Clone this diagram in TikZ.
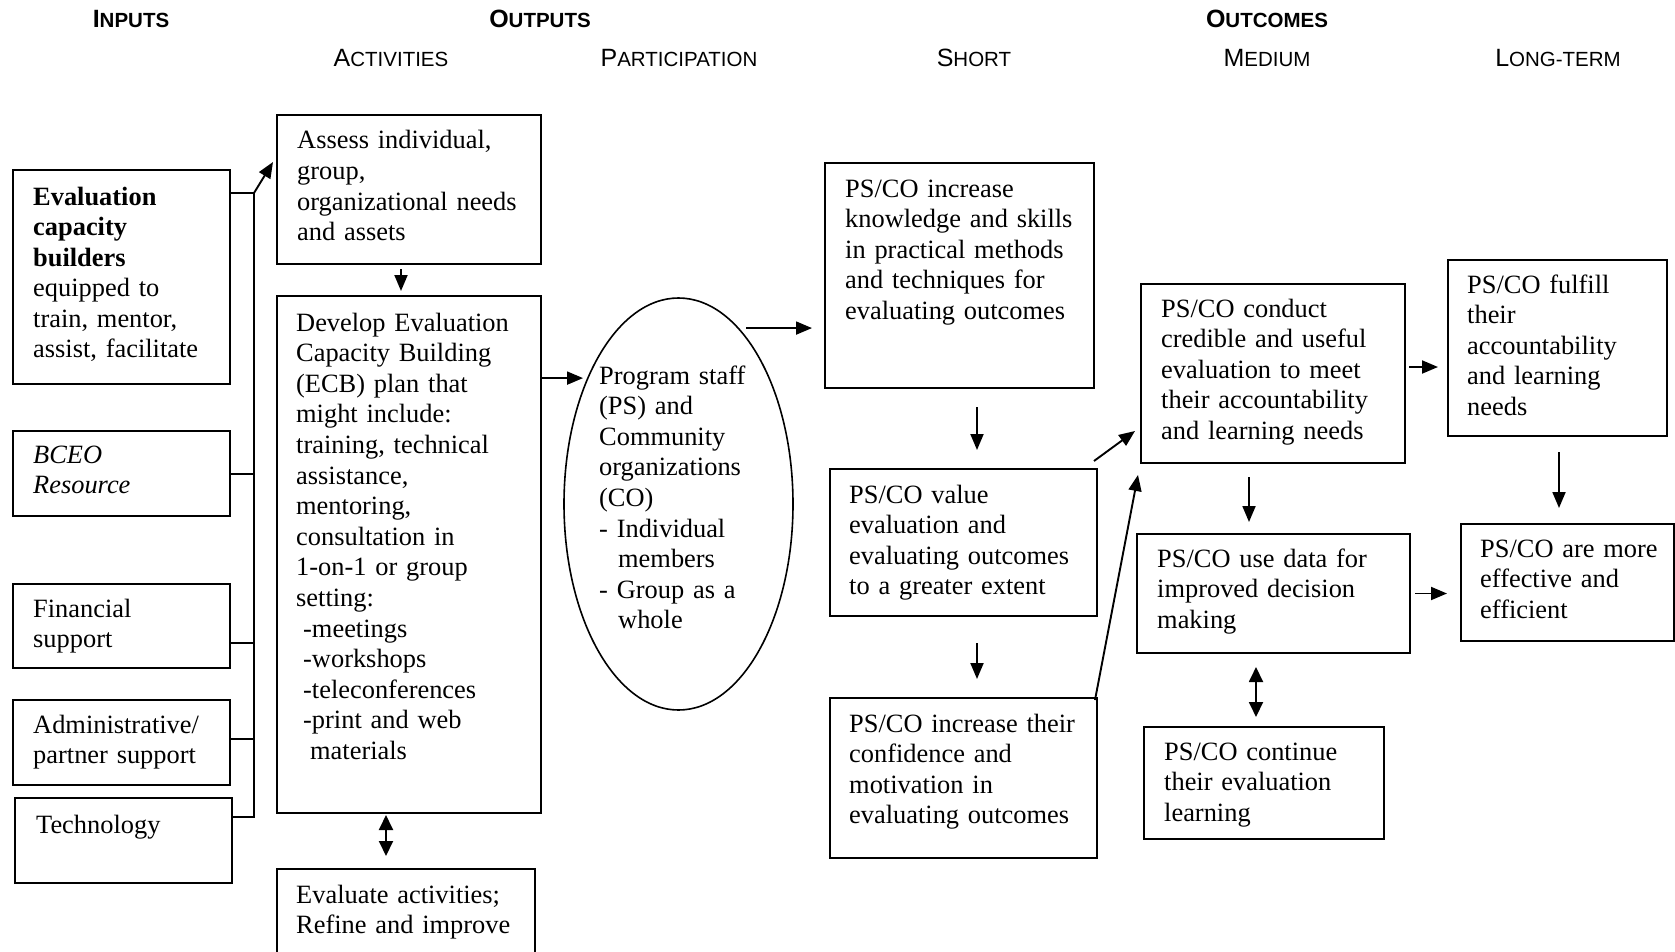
\documentclass[tikz,border=0pt]{standalone}
\usepackage{fontspec}
\setmainfont{Liberation Serif}
\newfontfamily\headfont{Liberation Sans}
\usetikzlibrary{calc,arrows.meta,shapes.geometric}

% header in faked small capitals: large initial, smaller rest
\newcommand{\hdsc}[2]{{\fontsize{25}{30}\selectfont #1}{\fontsize{20.5}{24}\selectfont #2}}

\tikzset{
  box/.style={draw, line width=2pt, rectangle, anchor=north west, inner sep=0pt},
  oval/.style={draw, line width=1.6pt, ellipse, inner sep=0pt},
  txt/.style={anchor=base west, inner sep=0pt, text width=270pt, align=left,
              font=\fontsize{26.4}{30.6}\selectfont},
  head/.style={anchor=base, inner sep=0pt, font=\headfont},
  link/.style={line width=2pt},
  arr/.style={line width=1.9pt, -{Triangle[length=16pt,width=13pt]}},
  darr/.style={line width=1.9pt, {Triangle[length=15pt,width=14pt]}-{Triangle[length=15pt,width=14pt]}},
}

\begin{document}
\begin{tikzpicture}[x=1pt,y=-1pt]
\fill[white] (0,0) rectangle (1675,952);
\useasboundingbox (0,0) rectangle (1675,952);

% column headers
\node[head] (h-in)   at (131,28)  {\bfseries\hdsc{I}{NPUTS}};
\node[head] (h-out)  at (540,28)  {\bfseries\hdsc{O}{UTPUTS}};
\node[head] (h-oc)   at (1267,28) {\bfseries\hdsc{O}{UTCOMES}};
\node[head] (h-act)  at (391,67)  {\hdsc{A}{CTIVITIES}};
\node[head] (h-par)  at (679,67)  {\hdsc{P}{ARTICIPATION}};
\node[head] (h-sh)   at (974,67)  {\hdsc{S}{HORT}};
\node[head] (h-med)  at (1267,67) {\hdsc{M}{EDIUM}};
\node[head] (h-long) at (1558,67) {\hdsc{L}{ONG-TERM}};

% inputs
\node[box, minimum width=217pt, minimum height=214pt] (build) at (12,169) {};
\node[txt] (build-t) at (33,205) {\textbf{Evaluation}\\\textbf{capacity}\\\textbf{builders}\\equipped to\\train, mentor,\\assist, facilitate};
\node[box, minimum width=217pt, minimum height=85pt] (bceo) at (12,430) {};
\node[txt] (bceo-t) at (33,463) {\itshape BCEO\\Resource};
\node[box, minimum width=217pt, minimum height=84pt] (fin) at (12,583) {};
\node[txt] (fin-t) at (33,617) {Financial\\support};
\node[box, minimum width=217pt, minimum height=85pt] (admin) at (12,699) {};
\node[txt] (admin-t) at (33,733) {Administrative/\\partner support};
\node[box, minimum width=217pt, minimum height=85pt] (tech) at (14,797) {};
\node[txt] (tech-t) at (36,833) {Technology};

% activities
\node[box, minimum width=264pt, minimum height=149pt] (assess) at (276,114) {};
\node[txt] (assess-t) at (297,149) {Assess individual,\\group,\\organizational needs\\and assets};
\node[box, minimum width=264pt, minimum height=517pt] (develop) at (276,295) {};
\node[txt] (develop-t) at (296,331) {Develop Evaluation\\Capacity Building\\(ECB) plan that\\might include:\\training, technical\\assistance,\\mentoring,\\consultation in\\1-on-1 or group\\setting:\\\hspace*{7pt}-meetings\\\hspace*{7pt}-workshops\\\hspace*{7pt}-teleconferences\\\hspace*{7pt}-print and web\\\hspace*{14pt}materials};
\node[box, minimum width=258pt, minimum height=100pt] (evaluate) at (276,868) {};
\node[txt] (evaluate-t) at (296,903) {Evaluate activities;\\Refine and improve};

% participation
\node[oval, minimum width=229pt, minimum height=412pt] (part) at (678.5,504) {};
\node[txt] (part-t) at (599,384) {Program staff\\(PS) and\\Community\\organizations\\(CO)\\- Individual\\\hspace*{19pt}members\\- Group as a\\\hspace*{19pt}whole};

% short-term outcomes
\node[box, minimum width=269pt, minimum height=225pt] (short1) at (824,162) {};
\node[txt] (short1-t) at (845,197) {PS/CO increase\\knowledge and skills\\in practical methods\\and techniques for\\evaluating outcomes};
\node[box, minimum width=267pt, minimum height=147pt] (short2) at (829,468) {};
\node[txt] (short2-t) at (849,503) {PS/CO value\\evaluation and\\evaluating outcomes\\to a greater extent};
\node[box, minimum width=267pt, minimum height=160pt] (short3) at (829,697) {};
\node[txt] (short3-t) at (849,732) {PS/CO increase their\\confidence and\\motivation in\\evaluating outcomes};

% medium-term outcomes
\node[box, minimum width=264pt, minimum height=179pt] (med1) at (1140,283) {};
\node[txt] (med1-t) at (1161,317) {PS/CO conduct\\credible and useful\\evaluation to meet\\their accountability\\and learning needs};
\node[box, minimum width=273pt, minimum height=119pt] (med2) at (1136,533) {};
\node[txt] (med2-t) at (1157,567) {PS/CO use data for\\improved decision\\making};
\node[box, minimum width=240pt, minimum height=112pt] (med3) at (1143,726) {};
\node[txt] (med3-t) at (1164,760) {PS/CO continue\\their evaluation\\learning};

% long-term outcomes
\node[box, minimum width=219pt, minimum height=176pt] (long1) at (1447,259) {};
\node[txt] (long1-t) at (1467,293) {PS/CO fulfill\\their\\accountability\\and learning\\needs};
\node[box, minimum width=213pt, minimum height=117pt] (long2) at (1460,523) {};
\node[txt] (long2-t) at (1480,557) {PS/CO are more\\effective and\\efficient};

% input bus
\coordinate (bustop) at (254,193);
\coordinate (busbot) at (254,817);
\coordinate (finjoin) at (254,643);
\coordinate (adminjoin) at (254,739);
\draw[link] (build.east |- bustop) -- (bustop) -- (busbot) -- (tech.east |- busbot);
\draw[link] (bceo.east) -- (bceo.east -| bustop);
\draw[link] (fin.east |- finjoin) -- (finjoin);
\draw[link] (admin.east |- adminjoin) -- (adminjoin);
\draw[arr] (bustop) -- ($(assess.west)+(-3,-27.5)$);

% activities and participation
\draw[arr] ($(assess.south)+(-8,4)$) -- ($(develop.north)+(-8,-4)$);
\draw[darr] ($(develop.south)+(-23,1)$) -- ($(evaluate.north)+(-20,-12)$);
\draw[arr, shorten >=4pt] (develop.east |- part.126.1) -- (part.126.1);
\draw[arr, shorten <=7pt, shorten >=12pt] (part.71.7) -- (short1.west |- part.71.7);

% short-term chain
\draw[arr] ($(short1.south)+(17.5,18)$) -- ($(short2.north)+(13.5,-18)$);
\draw[arr] ($(short2.south)+(13.5,26)$) -- ($(short3.north)+(13.5,-18)$);
\draw[arr] ($(short2.north east)+(-4,-7)$) -- ($(med1.south west)+(-5,-33)$);
\draw[arr] ($(short3.north east)+(-3,3)$) -- ($(med1.south west)+(-2,11)$);

% medium and long-term chain
\draw[arr, shorten <=3pt, shorten >=9pt] ($(med1.east)+(0,-6.5)$) -- ($(long1.west |- med1.east)+(0,-6.5)$);
\draw[arr] ($(med1.south)+(-24,13)$) -- ($(med2.north)+(-24.5,-11)$);
\draw[arr] ($(long1.south)+(1.5,15)$) -- ($(long2.north)+(-8.5,-15)$);
\draw[arr, shorten <=4pt, shorten >=13pt] (med2.east) -- (long2.west |- med2.east);
\draw[darr] ($(med2.south)+(-17.5,13)$) -- ($(med3.north)+(-8,-9)$);
\end{tikzpicture}
\end{document}
